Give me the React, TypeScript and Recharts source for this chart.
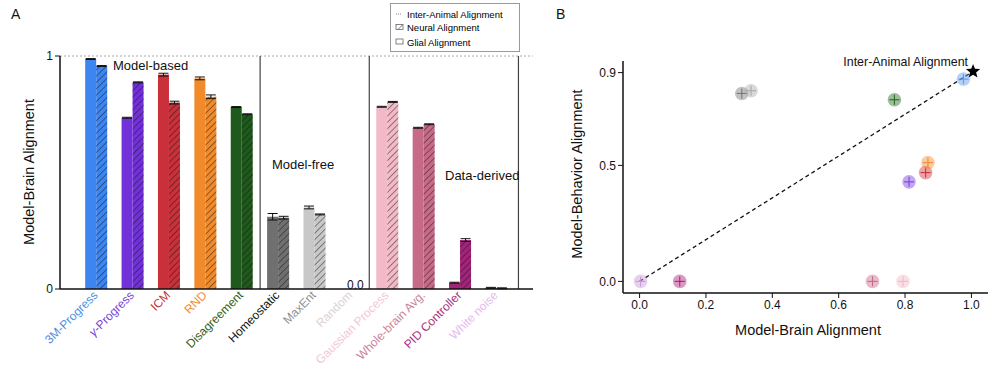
import React from 'react';
import { BarChart, Bar, XAxis, YAxis, ReferenceLine, ErrorBar, ScatterChart, Scatter } from 'recharts';

// panel A data
const categories = ['3M-Progress', 'γ-Progress', 'ICM', 'RND', 'Disagreement', 'Homeostatic', 'MaxEnt', 'Random', 'Gaussian Process', 'Whole-brain Avg.', 'PID Controller', 'White noise'];
const glial = [0.987, 0.735, 0.92, 0.904, 0.781, 0.31, 0.35, 0, 0.782, 0.692, 0.027, 0.005];
const glialErr = [0.002, 0.002, 0.006, 0.006, 0.002, 0.014, 0.006, 0, 0.002, 0.002, 0.002, 0.002];
const neural = [0.957, 0.887, 0.8, 0.825, 0.75, 0.306, 0.32, 0, 0.803, 0.707, 0.21, 0.003];
const neuralErr = [0.002, 0.002, 0.006, 0.008, 0.002, 0.006, 0.002, 0, 0.002, 0.002, 0.006, 0.002];
const separators = [4.5, 7.5, 11.6];
const yTicksA = [0, 1];

// panel B data
const pointNames = ['3M-Progress', 'γ-Progress', 'ICM', 'RND', 'Disagreement', 'Homeostatic', 'MaxEnt', 'Gaussian Process', 'Whole-brain Avg.', 'PID Controller', 'White noise'];
const brainX = [0.976, 0.812, 0.862, 0.869, 0.768, 0.308, 0.336, 0.794, 0.702, 0.121, 0.003];
const behaviorY = [0.872, 0.429, 0.469, 0.512, 0.783, 0.81, 0.822, 0, 0, 0, 0];
const interAnimal = { x: 1.005, y: 0.905 };
const xTicksB = [0, 0.2, 0.4, 0.6, 0.8, 1.0];
const yTicksB = [0, 0.5, 0.9];

// styles
const barColors = ['#3d85f0', '#7130d8', '#c9303a', '#f08a2a', '#1f5a1c', '#707070', '#c8c8c8', '#e6d6de', '#f2b9c6', '#c76a88', '#a3237a', '#8a6a8a'];
const labelColors = ['#4a8fe8', '#7b3fe0', '#c8303c', '#f08c30', '#2a6020', '#111111', '#909090', '#ddd0d8', '#f0c8d4', '#c8849c', '#a83080', '#e8b8ee'];
const pointColors = ['#5a9af0', '#7b3fe0', '#d0303c', '#f08c30', '#2a6a25', '#777777', '#aaaaaa', '#f2b9c6', '#c76a88', '#b0207a', '#c89ad8'];

const font = '"Liberation Sans", Arial, sans-serif';

const barData = categories.map((name, i) => ({
  idx: i,
  name,
  glial: glial[i],
  glialErr: glialErr[i],
  neural: neural[i],
  neuralErr: neuralErr[i],
}));

const pointData = pointNames.map((name, i) => ({ name, x: brainX[i], y: behaviorY[i] }));

const CatTick = (props: any) => {
  const { x, y, payload } = props;
  const i = payload.value;
  const label = categories[i];
  const ax = x + 2;
  const ay = y - 1;
  return (
    <text x={ax} y={ay} transform={`rotate(-45 ${ax} ${ay})`} textAnchor="end" fontSize={12} fontFamily={font} fill={labelColors[i]}>
      {label.startsWith('γ') ? (<><tspan fontStyle="italic">γ</tspan>{label.slice(1)}</>) : label}
    </text>
  );
};

const GlialBar = (props: any) => {
  const { x, y, width, height, index } = props;
  if (!height || height <= 0) return null;
  return <rect x={x} y={y} width={width} height={height} fill={barColors[index]} />;
};

const NeuralBar = (props: any) => {
  const { x, y, width, height, index } = props;
  if (!height || height <= 0) return null;
  return (
    <g>
      <rect x={x} y={y} width={width} height={height} fill={barColors[index]} />
      <rect x={x} y={y} width={width} height={height} fill="url(#hatch)" />
    </g>
  );
};

const PointShape = (props: any) => {
  const { cx, cy, index } = props;
  const c = pointColors[index];
  return (
    <g>
      <circle cx={cx} cy={cy} r={6.8} fill={c} fillOpacity={0.45} />
      <line x1={cx - 5} y1={cy} x2={cx + 5} y2={cy} stroke={c} strokeWidth={1.1} />
      <line x1={cx} y1={cy - 5} x2={cx} y2={cy + 5} stroke={c} strokeWidth={1.1} />
    </g>
  );
};

const StarShape = (props: any) => {
  const { cx, cy } = props;
  const pts: string[] = [];
  for (let k = 0; k < 10; k++) {
    const r = k % 2 === 0 ? 7.5 : 3.2;
    const a = -Math.PI / 2 + (k * Math.PI) / 5;
    pts.push(`${cx + r * Math.cos(a)},${cy + r * Math.sin(a)}`);
  }
  return <polygon points={pts.join(' ')} fill="#000" />;
};

const tickStyle = { fontSize: 12, fill: '#111', fontFamily: font };

export default function App() {
  return (
    <div style={{ position: 'absolute', left: 0, top: 0, width: 1000, height: 371, background: '#fff', fontFamily: font }}>
      <div style={{ position: 'absolute', left: 0, top: 0 }}>
        <BarChart width={560} height={371} data={barData} margin={{ top: 56, right: 27, bottom: 0, left: 40 }} barGap={0} barSize={11}>
          <defs>
            <pattern id="hatch" patternUnits="userSpaceOnUse" width="4.5" height="4.5" patternTransform="rotate(45)">
              <line x1="0" y1="0" x2="0" y2="4.5" stroke="#111" strokeOpacity={0.85} strokeWidth={1} />
            </pattern>
          </defs>
          <XAxis dataKey="idx" type="number" domain={[-0.91, 11.9]} ticks={categories.map((_, i) => i)} interval={0} height={82}
            tick={<CatTick />} tickLine={false} axisLine={{ stroke: '#111', strokeWidth: 1.5 }} allowDecimals={false} />
          <YAxis domain={[0, 1]} ticks={yTicksA} width={20} tick={tickStyle} tickLine={{ stroke: '#111' }}
            axisLine={{ stroke: '#111', strokeWidth: 1.5 }} tickSize={5} />
          <ReferenceLine y={1} stroke="#aaa" strokeDasharray="2 2" />
          {separators.map((s) => (
            <ReferenceLine key={s} x={s} stroke="#444" strokeWidth={1.2} />
          ))}
          <Bar dataKey="glial" shape={<GlialBar />} isAnimationActive={false}>
            <ErrorBar dataKey="glialErr" width={5} stroke="#111" strokeWidth={1} />
          </Bar>
          <Bar dataKey="neural" shape={<NeuralBar />} isAnimationActive={false}>
            <ErrorBar dataKey="neuralErr" width={5} stroke="#111" strokeWidth={1} />
          </Bar>
        </BarChart>
      </div>

      <div style={{ position: 'absolute', left: 560, top: 0 }}>
        <ScatterChart width={440} height={371} margin={{ top: 61, right: 12, bottom: 0, left: 38 }}>
          <XAxis dataKey="x" type="number" domain={[-0.05, 1.05]} ticks={xTicksB} tickFormatter={(v: number) => v.toFixed(1)} height={78}
            tick={tickStyle} tickLine={{ stroke: '#111' }} axisLine={{ stroke: '#111', strokeWidth: 1.5 }} tickSize={5} />
          <YAxis dataKey="y" type="number" domain={[-0.05, 0.95]} ticks={yTicksB} tickFormatter={(v: number) => v.toFixed(1)} width={25}
            tick={tickStyle} tickLine={{ stroke: '#111' }} axisLine={{ stroke: '#111', strokeWidth: 1.5 }} tickSize={5} />
          <ReferenceLine segment={[{ x: 0, y: 0 }, { x: interAnimal.x, y: interAnimal.y }]} stroke="#111" strokeWidth={1.3} strokeDasharray="4 3" />
          <Scatter data={pointData} shape={<PointShape />} isAnimationActive={false} />
          <Scatter data={[interAnimal]} shape={<StarShape />} isAnimationActive={false} />
        </ScatterChart>
      </div>

      <svg width={1000} height={371} style={{ position: 'absolute', left: 0, top: 0, pointerEvents: 'none' }} fontFamily={font}>
        <text x={11} y={19} fontSize={14} fill="#111">A</text>
        <text x={556} y={19} fontSize={14} fill="#111">B</text>
        <text x={30} y={172} fontSize={14.5} fill="#111" textAnchor="middle" transform="rotate(-90 30 172)" dominantBaseline="middle">Model-Brain Alignment</text>
        <text x={113} y={70} fontSize={13} fill="#111">Model-based</text>
        <text x={272} y={169} fontSize={13} fill="#111">Model-free</text>
        <text x={445} y={180} fontSize={13} fill="#111">Data-derived</text>
        <text x={347} y={289} fontSize={12} fill="#111">0.0</text>
        <text x={578} y={174} fontSize={14.5} fill="#111" textAnchor="middle" transform="rotate(-90 578 174)" dominantBaseline="middle">Model-Behavior Alignment</text>
        <text x={808} y={335} fontSize={14.5} fill="#111" textAnchor="middle">Model-Brain Alignment</text>
        <text x={968} y={66} fontSize={12.4} fill="#111" textAnchor="end">Inter-Animal Alignment</text>
      </svg>

      <div style={{ position: 'absolute', left: 390, top: 3, width: 130, height: 49, border: '1px solid #999', background: '#fff', fontSize: 9.5, color: '#111', boxSizing: 'border-box' }}>
        <svg width={128} height={47} fontFamily={font}>
          <line x1={5} y1={10} x2={11} y2={10} stroke="#888" strokeDasharray="1 1" />
          <text x={16} y={13.5} fontSize={9.5}>Inter-Animal Alignment</text>
          <rect x={5} y={20.5} width={7} height={5} fill="url(#hatch)" stroke="#666" strokeWidth={0.8} />
          <text x={16} y={27} fontSize={9.5}>Neural Alignment</text>
          <rect x={5} y={35} width={7} height={5} fill="none" stroke="#666" strokeWidth={0.8} />
          <text x={16} y={41.5} fontSize={9.5}>Glial Alignment</text>
        </svg>
      </div>
    </div>
  );
}
